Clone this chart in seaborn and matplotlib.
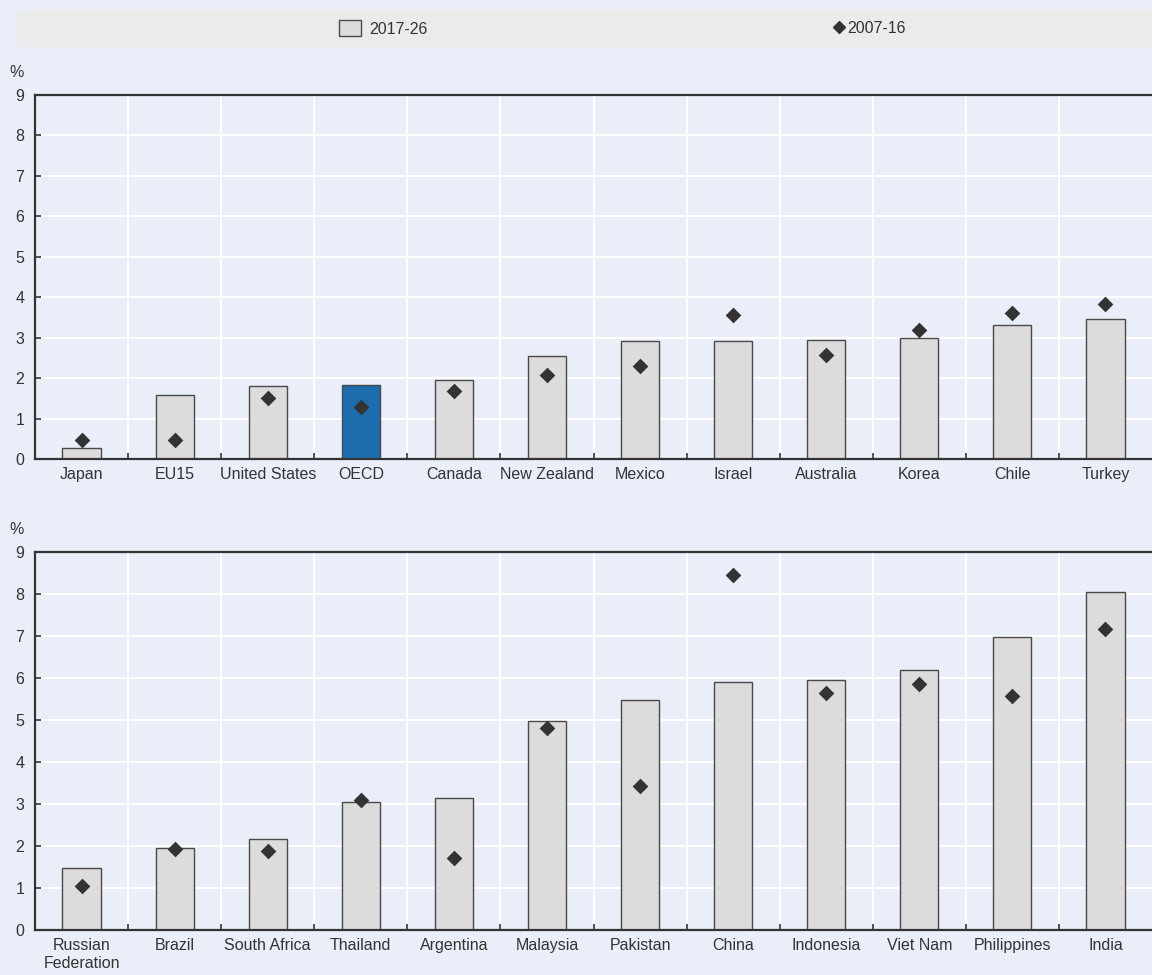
import matplotlib
matplotlib.use("Agg")
import matplotlib.pyplot as plt
import seaborn as sns
import numpy as np
import pandas as pd
from matplotlib.patches import Patch
from matplotlib.lines import Line2D
from matplotlib.ticker import MultipleLocator, FixedLocator

# ---- data ----
top_countries = ["Japan", "EU15", "United States", "OECD", "Canada", "New Zealand",
                 "Mexico", "Israel", "Australia", "Korea", "Chile", "Turkey"]
top_2017_26 = [0.27, 1.58, 1.80, 1.83, 1.95, 2.55, 2.92, 2.92, 2.94, 3.00, 3.31, 3.47]
top_2007_16 = [0.47, 0.47, 1.50, 1.28, 1.68, 2.08, 2.30, 3.56, 2.57, 3.19, 3.61, 3.84]

bot_countries = ["Russian\nFederation", "Brazil", "South Africa", "Thailand", "Argentina",
                 "Malaysia", "Pakistan", "China", "Indonesia", "Viet Nam", "Philippines", "India"]
bot_2017_26 = [1.48, 1.95, 2.17, 3.05, 3.14, 4.98, 5.48, 5.90, 5.95, 6.19, 6.98, 8.05]
bot_2007_16 = [1.05, 1.93, 1.88, 3.10, 1.71, 4.81, 3.43, 8.45, 5.64, 5.86, 5.57, 7.17]

series_labels = ["2017-26", "2007-16"]
highlight = "OECD"

BG = "#EAEEF8"
BAR = "#DCDCDC"
HIGHLIGHT = "#1B6DAD"
EDGE = "#4a4a4a"
DARK = "#333333"

sns.set_theme(style="white")
plt.rcParams["font.family"] = ["Liberation Sans Narrow", "Liberation Sans", "DejaVu Sans"]
plt.rcParams["font.size"] = 11.5
plt.rcParams["text.color"] = DARK
plt.rcParams["xtick.color"] = DARK
plt.rcParams["ytick.color"] = DARK

fig = plt.figure(figsize=(11.52, 9.75), dpi=100)
fig.patch.set_facecolor(BG)

W, H = 1152, 975
def fa(left, top, right, bottom):
    return [left / W, 1 - bottom / H, (right - left) / W, (bottom - top) / H]

ax_top = fig.add_axes(fa(35, 95, 1152, 459))
ax_bot = fig.add_axes(fa(35, 552, 1152, 930))

def draw_panel(ax, cats, v1, v2):
    df = pd.DataFrame({"country": cats, "v1": v1, "v2": v2})
    pal = {c: (HIGHLIGHT if c == highlight else BAR) for c in cats}
    sns.barplot(data=df, x="country", y="v1", hue="country", palette=pal,
                legend=False, width=0.41, edgecolor=EDGE, linewidth=1.0,
                saturation=1, ax=ax, zorder=2)
    sns.stripplot(data=df, x="country", y="v2", jitter=False, marker="D",
                  size=8, color=DARK, linewidth=0, ax=ax, zorder=3)
    ax.set_facecolor(BG)
    ax.set_xlim(-0.5, len(cats) - 0.5)
    ax.set_ylim(0, 9)
    ax.yaxis.set_major_locator(MultipleLocator(1))
    ax.xaxis.set_minor_locator(FixedLocator(np.arange(0.5, len(cats) - 0.5, 1)))
    ax.set_xlabel("")
    ax.set_ylabel("")
    ax.grid(axis="y", which="major", color="white", linewidth=1.5, zorder=0)
    ax.grid(axis="x", which="minor", color="white", linewidth=1.5, zorder=0)
    ax.grid(axis="x", which="major", visible=False)
    ax.set_axisbelow(True)
    for s in ["left", "bottom", "top"]:
        ax.spines[s].set_visible(True)
        ax.spines[s].set_color(DARK)
        ax.spines[s].set_linewidth(1.6)
    ax.spines["right"].set_visible(False)
    ax.tick_params(axis="x", which="major", length=0, pad=6, labelsize=11.5)
    ax.tick_params(axis="x", which="minor", direction="in", length=4, width=1.2,
                   color=DARK, bottom=True)
    ax.tick_params(axis="y", which="major", direction="in", length=4, width=1.2,
                   color=DARK, pad=14, labelsize=11.5, left=True)
    for lab in ax.get_yticklabels():
        lab.set_horizontalalignment("left")
    ax.text(-18 / (1152 - 35), 1.0, "%", transform=ax.transAxes,
            ha="left", va="bottom", fontsize=11.5, color=DARK)

draw_panel(ax_top, top_countries, top_2017_26, top_2007_16)
draw_panel(ax_bot, bot_countries, bot_2017_26, bot_2007_16)

# adjust "%" positions a bit above
for ax in (ax_top, ax_bot):
    for t in ax.texts:
        t.set_position((-26 / (1152 - 35), 1.04))

# ---- legend band ----
ax_leg = fig.add_axes(fa(17, 10, 1152, 47))
ax_leg.set_facecolor("#EBEBEB")
ax_leg.set_xticks([])
ax_leg.set_yticks([])
for s in ax_leg.spines.values():
    s.set_visible(False)

h1 = Patch(facecolor=BAR, edgecolor=EDGE, linewidth=1.0)
h2 = Line2D([], [], marker="D", color=DARK, linestyle="none", markersize=6)
leg1 = ax_leg.legend([h1], [series_labels[0]], loc="center left",
                     bbox_to_anchor=((339 - 17) / 1135, 0.5), frameon=False,
                     handlelength=1.4, handleheight=1.1, handletextpad=0.5,
                     borderpad=0, borderaxespad=0, fontsize=11.5)
ax_leg.add_artist(leg1)
ax_leg.legend([h2], [series_labels[1]], loc="center left",
              bbox_to_anchor=((834 - 17) / 1135, 0.5), frameon=False,
              handlelength=0.6, handletextpad=0.2, borderpad=0, borderaxespad=0,
              fontsize=11.5)

fig.savefig("out.png", dpi=100, facecolor=BG)
